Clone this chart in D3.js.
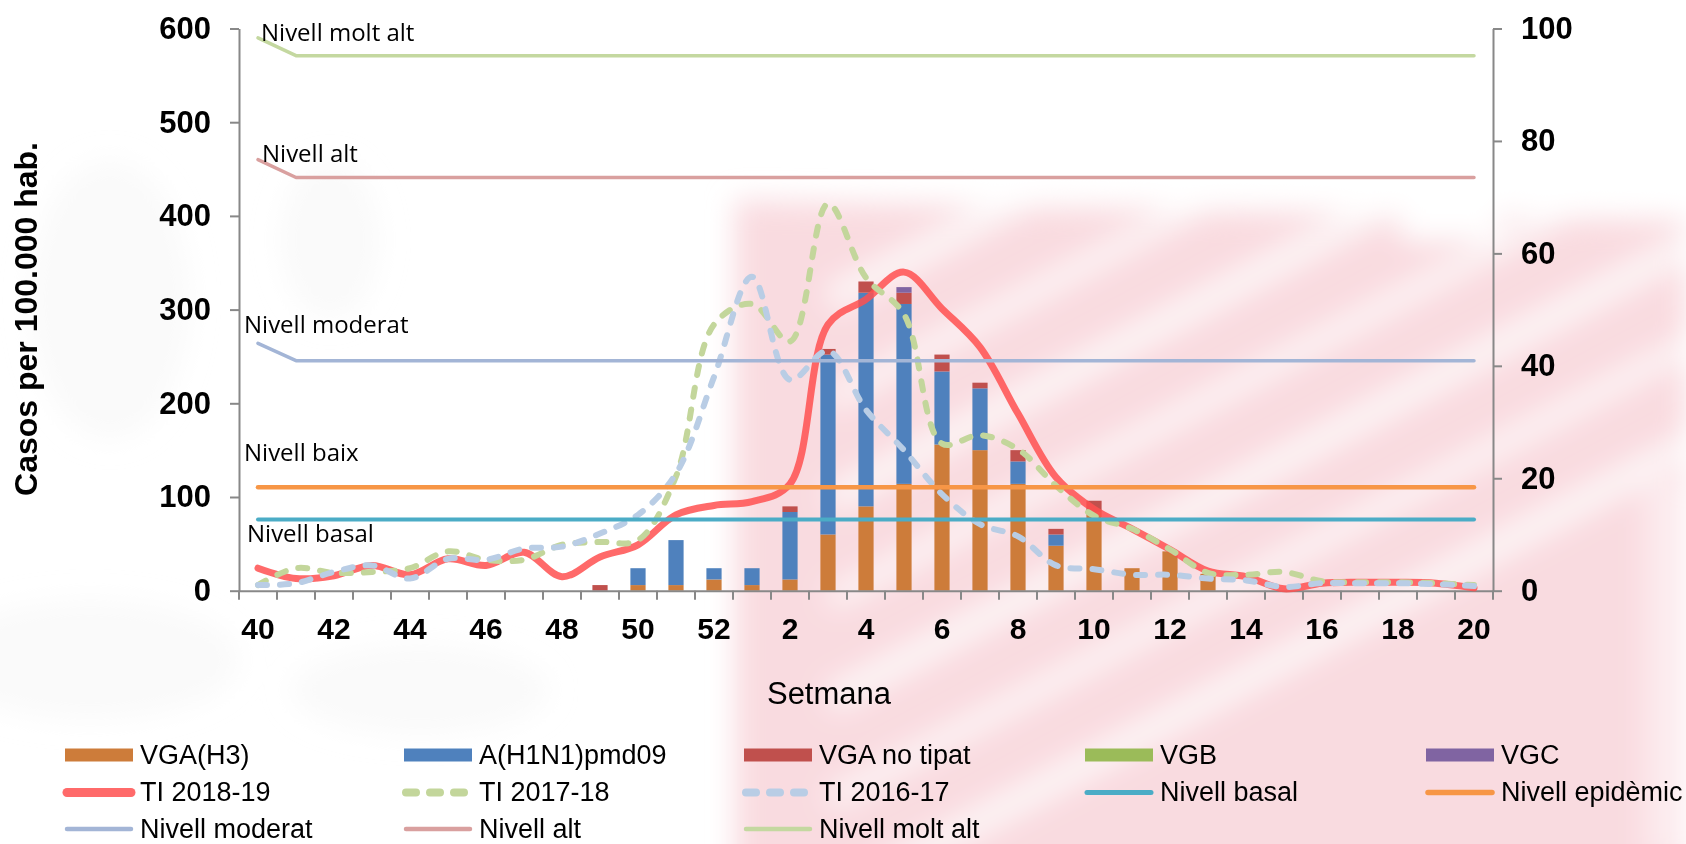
<!DOCTYPE html>
<html><head><meta charset="utf-8">
<script src="https://cdn.jsdelivr.net/npm/d3@7"></script>
<style>html,body{margin:0;padding:0;background:#fff;overflow:hidden}</style>
</head><body>
<svg id="chart" width="1686" height="844"></svg>
<script>
// ---------- DATA ----------
const weeks = ['40','41','42','43','44','45','46','47','48','49','50','51','52',
  '1','2','3','4','5','6','7','8','9','10','11','12','13','14','15','16','17','18','19','20'];
const xTickLabels = ['40','42','44','46','48','50','52','2','4','6','8','10','12','14','16','18','20'];
const yLeftTicks = [0,100,200,300,400,500,600];
const yRightTicks = [0,20,40,60,80,100];

// Virus detections (right axis)
const vgaH3     = [0,0,0,0,0,0,0,0,0,0,1,1,2,1,2,10,15,19,26,25,19,8,14,4,7,3,0,0,0,0,0,0,0];
const aH1N1     = [0,0,0,0,0,0,0,0,0,0,3,8,2,3,12,32,38,32,13,11,4,2,0,0,0,0,0,0,0,0,0,0,0];
const vgaNoTip  = [0,0,0,0,0,0,0,0,0,1,0,0,0,0,1,1,2,2,3,1,2,1,2,0,0,0,0,0,0,0,0,0,0];
const vgb       = [0,0,0,0,0,0,0,0,0,0,0,0,0,0,0,0,0,0,0,0,0,0,0,0,0,0,0,0,0,0,0,0,0];
const vgc       = [0,0,0,0,0,0,0,0,0,0,0,0,0,0,0,0,0,1,0,0,0,0,0,0,0,0,0,0,0,0,0,0,0];

// Incidence rates (left axis)
const ti1819 = [24,13,16,27,17,34,27,41,15,36,49,81,91,95,114,284,311,340,301,260,189,121,87,66,44,21,15,2,8,9,9,8,3];
const ti1718 = [6,24,19,20,24,42,33,33,49,52,54,122,284,306,266,413,334,295,157,166,151,112,80,66,44,19,17,20,10,9,9,8,6];
const ti1617 = [6,8,20,27,13,34,33,45,47,61,81,125,228,335,225,256,193,150,103,71,58,27,23,17,17,13,11,4,8,8,8,7,5];

// Threshold levels (left axis): value at week 40, week 41 and week 20
const levelWeeks = ['40','41','20'];
const lvlBasal    = [76,76,76];
const lvlEpidemic = [110.5,110.5,110.5];
const lvlModerat  = [264,245.5,245.5];
const lvlAlt      = [460,441,441];
const lvlMoltAlt  = [590,571,571];

// ---------- CHART ----------
const svg = d3.select('#chart');
const FONT = '"Liberation Sans", Arial, sans-serif';
const CAL = '"Open Sans", "Noto Sans", sans-serif';

// faint blurred watermark background
const defs = svg.append('defs');
defs.append('filter').attr('id','blurBig').attr('filterUnits','userSpaceOnUse')
  .attr('x',-100).attr('y',-100).attr('width',1900).attr('height',1050)
  .append('feGaussianBlur').attr('stdDeviation',14);
const bg = svg.append('g').attr('filter','url(#blurBig)');
[[110,300,80,140],[90,660,150,60],[420,690,130,45],[330,240,50,80]].forEach(e=>{
  bg.append('ellipse').attr('cx',e[0]).attr('cy',e[1]).attr('rx',e[2]).attr('ry',e[3]).attr('fill','#f2f2f2').attr('opacity',0.4);
});
bg.append('polygon').attr('points','735,200 1686,220 1686,880 735,880').attr('fill','#f9dbe0');
[300,400,500,600,700,800,900].forEach((y0,k)=>{
  bg.append('line').attr('x1',830).attr('y1',y0).attr('x2',1700).attr('y2',y0-461)
    .attr('stroke','#fff').attr('stroke-width',k%2?20:26).attr('opacity',0.75);
});
bg.append('rect').attr('x',1400).attr('y',160).attr('width',100).attr('height',80).attr('fill','#fff');
bg.append('rect').attr('x',1645).attr('y',480).attr('width',50).attr('height',380).attr('fill','#fff').attr('opacity',0.45);

const x = d3.scaleBand().domain(weeks).range([239,1493]);
const yL = d3.scaleLinear().domain([0,600]).range([590.7,28.5]);
const yR = d3.scaleLinear().domain([0,100]).range([590.7,28.5]);
const cx = w => x(w) + x.bandwidth()/2;

// stacked bars
const keys = ['VGA(H3)','A(H1N1)pmd09','VGA no tipat','VGB','VGC'];
const barColors = ['#cd7c3a','#4f81bd','#c0504d','#9bbb59','#8064a2'];
const series = [vgaH3,aH1N1,vgaNoTip,vgb,vgc];
const rows = weeks.map((w,i)=>{const r={week:w}; keys.forEach((k,j)=>r[k]=series[j][i]); return r;});
const stacked = d3.stack().keys(keys)(rows);
const barW = x.bandwidth()*0.4;
const gBars = svg.append('g');
stacked.forEach((s,j)=>{
  gBars.selectAll(null).data(s.filter(d=>d[1]-d[0]>0)).enter().append('rect')
    .attr('x',d=>x(d.data.week)+(x.bandwidth()-barW)/2)
    .attr('width',barW)
    .attr('y',d=>yR(d[1]))
    .attr('height',d=>yR(d[0])-yR(d[1]))
    .attr('fill',barColors[j]);
});

// axes
function styleAxis(g){
  g.selectAll('.domain').attr('stroke','#888').attr('stroke-width',2);
  g.selectAll('.tick line').attr('stroke','#888').attr('stroke-width',2);
  g.selectAll('text').attr('fill','#000').attr('font-family',FONT).attr('font-weight','bold');
}
const axL = svg.append('g').attr('transform','translate(239,0)')
  .call(d3.axisLeft(yL).tickValues(yLeftTicks).tickSize(9).tickPadding(19).tickSizeOuter(0));
styleAxis(axL); axL.selectAll('text').attr('font-size',31);
const axR = svg.append('g').attr('transform','translate(1493,0)')
  .call(d3.axisRight(yR).tickValues(yRightTicks).tickSize(9).tickPadding(19).tickSizeOuter(0));
styleAxis(axR); axR.selectAll('text').attr('font-size',31);
const axB = svg.append('g').attr('transform','translate(0,590.7)')
  .call(d3.axisBottom(x).tickValues(xTickLabels).tickSize(0).tickPadding(27).tickSizeOuter(0));
styleAxis(axB); axB.selectAll('text').attr('font-size',30);
const bounds = weeks.map(w=>x(w)).concat([x.range()[1]]);
axB.selectAll('.btick').data(bounds).enter().append('line').attr('class','btick')
  .attr('x1',d=>d).attr('x2',d=>d).attr('y1',0).attr('y2',9).attr('stroke','#888').attr('stroke-width',2);

// axis titles
svg.append('text').attr('transform','translate(37,319) rotate(-90)').attr('text-anchor','middle')
  .attr('font-family',FONT).attr('font-weight','bold').attr('font-size',32).text('Casos per 100.000 hab.');
svg.append('text').attr('x',829).attr('y',704).attr('text-anchor','middle')
  .attr('font-family',FONT).attr('font-size',31).text('Setmana');

// TI curves
const lineTI = d3.line().x((d,i)=>cx(weeks[i])).y(d=>yL(d)).curve(d3.curveCatmullRom.alpha(0.5));
const tiDefs = [
  {data:ti1819, color:'#ff5050', op:0.85, w:7, dash:null, name:'TI 2018-19'},
  {data:ti1718, color:'#c3d69b', op:1, w:6, dash:'9 13', name:'TI 2017-18'},
  {data:ti1617, color:'#b9cde5', op:1, w:6, dash:'9 13', name:'TI 2016-17'}
];
tiDefs.forEach(t=>{
  svg.append('path').attr('d',lineTI(t.data)).attr('fill','none').attr('stroke',t.color)
    .attr('stroke-opacity',t.op).attr('stroke-width',t.w).attr('stroke-linecap','round')
    .attr('stroke-linejoin','round').attr('stroke-dasharray',t.dash);
});

// level lines
const lineLvl = d3.line().x((d,i)=>cx(levelWeeks[i])).y(d=>yL(d));
const lvlDefs = [
  {data:lvlBasal, color:'#4bacc6', w:4, name:'Nivell basal'},
  {data:lvlEpidemic, color:'#f79646', w:4.5, name:'Nivell epidèmic'},
  {data:lvlModerat, color:'#a3b5d6', w:3.5, name:'Nivell moderat'},
  {data:lvlAlt, color:'#d9a09f', w:3.5, name:'Nivell alt'},
  {data:lvlMoltAlt, color:'#c4d8a0', w:3.5, name:'Nivell molt alt'}
];
lvlDefs.forEach(l=>{
  svg.append('path').attr('d',lineLvl(l.data)).attr('fill','none').attr('stroke',l.color)
    .attr('stroke-width',l.w).attr('stroke-linecap','round').attr('stroke-linejoin','round');
});

// level labels
const lvlLabels = [
  ['Nivell molt alt',261,40.5],['Nivell alt',262,161.5],['Nivell moderat',244,332.5],
  ['Nivell baix',244,460.5],['Nivell basal',247,542]
];
lvlLabels.forEach(l=>{
  svg.append('text').attr('x',l[1]).attr('y',l[2]).attr('font-family',CAL).attr('font-size',24).text(l[0]);
});

// legend
const legItems = [
  ...keys.map((k,j)=>({type:'rect',name:k,color:barColors[j]})),
  ...tiDefs.map(t=>({type:'line',name:t.name,color:t.color,op:t.op,w:t.w+2,dash:t.dash})),
  ...lvlDefs.map(l=>({type:'line',name:l.name,color:l.color,op:1,w:l.w+1,dash:null}))
];
const colX = [63,402,742,1083,1424];
const rowY = [755,792.5,829];
const leg = svg.append('g');
legItems.forEach((it,i)=>{
  const c = i%5, r = Math.floor(i/5);
  const x0 = colX[c], y0 = rowY[r];
  if(it.type==='rect'){
    leg.append('rect').attr('x',x0+2).attr('y',y0-6.5).attr('width',68).attr('height',13).attr('fill',it.color);
  } else {
    leg.append('line').attr('x1',x0+4).attr('x2',x0+68).attr('y1',y0).attr('y2',y0)
      .attr('stroke',it.color).attr('stroke-opacity',it.op).attr('stroke-width',it.w)
      .attr('stroke-linecap','round').attr('stroke-dasharray',it.dash?'10 14':null);
  }
  leg.append('text').attr('x',x0+77).attr('y',y0+8.5).attr('font-family',FONT).attr('font-size',27).text(it.name);
});
</script>
</body></html>
